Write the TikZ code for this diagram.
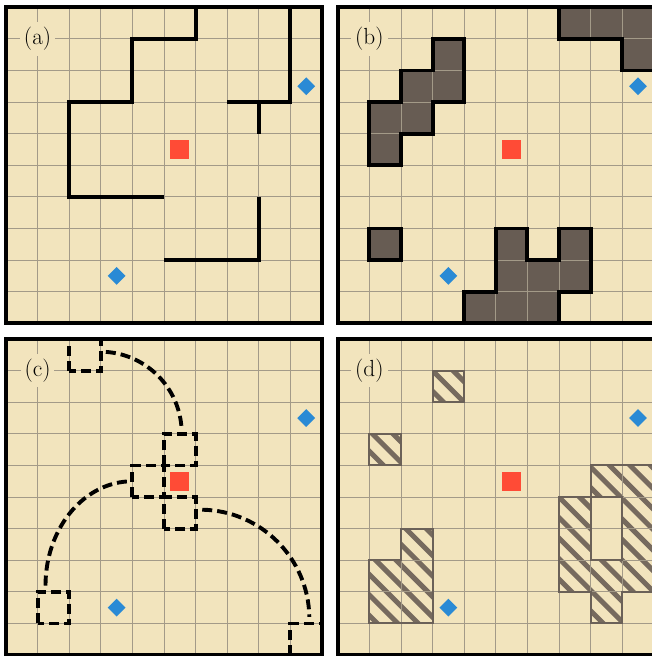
\documentclass[tikz,border=0pt]{standalone}
\definecolor{bgbeige}{HTML}{F2E4BD}
\definecolor{darkfill}{HTML}{675C53}
\definecolor{hatchcol}{HTML}{766A5E}
\definecolor{hatchedgecol}{HTML}{6B6158}
\definecolor{redsq}{HTML}{FF4B36}
\definecolor{bluedia}{HTML}{2A8AD5}
\definecolor{gridcol}{HTML}{A39A88}
\begin{document}
\begin{tikzpicture}[x=1cm,y=1cm,
  panelbg/.style={fill=bgbeige},
  gridline/.style={draw=gridcol,line width=0.8pt},
  frame/.style={draw=black,line width=3.2pt,line join=miter},
  wall/.style={draw=black,line width=3.5pt,line join=miter,line cap=butt},
  dashwall/.style={draw=black,line width=3.5pt,dash pattern=on 9pt off 4.5pt},
  darkregion/.style={fill=darkfill},
  hatchstripe/.style={draw=hatchcol,line width=4.5pt},
  hatchedge/.style={draw=hatchedgecol,line width=1.8pt,line join=miter},
  goal/.style={rectangle,fill=redsq,minimum size=0.6cm,inner sep=0pt},
  startmark/.style={rectangle,fill=bluedia,minimum size=0.4cm,inner sep=0pt,rotate=45},
  lbl/.style={fill=bgbeige,inner xsep=3.5pt,inner ysep=4.5pt,font=\fontsize{21}{25}\selectfont}
]
\useasboundingbox (-0.19,-0.03) rectangle (20.44,20.73);
\fill[white] (-0.19,-0.03) rectangle (20.44,20.73);

% ---------- panel (a) ----------
\begin{scope}[shift={(0,10.5)}]
  \fill[panelbg] (0,0) rectangle (10,10);
  \draw[gridline] (0,0) grid (10,10);
  \draw[wall] (6,10) -- (6,9) -- (4,9) -- (4,7) -- (2,7) -- (2,4) -- (5,4);
  \draw[wall] (9,10) -- (9,7) -- (7,7);
  \draw[wall] (8,7) -- (8,6);
  \draw[wall] (8,4) -- (8,2) -- (5,2);
  \node[goal] (agoal) at (5.5,5.5) {};
  \node[startmark] (astartA) at (9.5,7.5) {};
  \node[startmark] (astartB) at (3.5,1.5) {};
  \node[lbl] (alabel) at (1,9) {(a)};
  \draw[frame] (0,0) rectangle (10,10);
\end{scope}

% ---------- panel (b) ----------
\begin{scope}[shift={(10.5,10.5)}]
  \fill[panelbg] (0,0) rectangle (10,10);
  \fill[darkregion] (7,10) -- (7,9) -- (9,9) -- (9,8) -- (10,8) -- (10,10) -- cycle;
  \fill[darkregion] (3,9) -- (4,9) -- (4,7) -- (3,7) -- (3,6) -- (2,6) -- (2,5) -- (1,5) -- (1,7) -- (2,7) -- (2,8) -- (3,8) -- cycle;
  \fill[darkregion] (1,2) rectangle (2,3);
  \fill[darkregion] (4,0) -- (4,1) -- (5,1) -- (5,3) -- (6,3) -- (6,2) -- (7,2) -- (7,3) -- (8,3) -- (8,1) -- (7,1) -- (7,0) -- cycle;
  \draw[gridline] (0,0) grid (10,10);
  \draw[wall] (7,10) -- (7,9) -- (9,9) -- (9,8) -- (10,8);
  \draw[wall] (3,9) -- (4,9) -- (4,7) -- (3,7) -- (3,6) -- (2,6) -- (2,5) -- (1,5) -- (1,7) -- (2,7) -- (2,8) -- (3,8) -- cycle;
  \draw[wall] (1,2) rectangle (2,3);
  \draw[wall] (4,0) -- (4,1) -- (5,1) -- (5,3) -- (6,3) -- (6,2) -- (7,2) -- (7,3) -- (8,3) -- (8,1) -- (7,1) -- (7,0);
  \node[goal] (bgoal) at (5.5,5.5) {};
  \node[startmark] (bstartA) at (9.5,7.5) {};
  \node[startmark] (bstartB) at (3.5,1.5) {};
  \node[lbl] (blabel) at (1,9) {(b)};
  \draw[frame] (0,0) rectangle (10,10);
\end{scope}

% ---------- panel (c) ----------
\begin{scope}[shift={(0,0)}]
  \fill[panelbg] (0,0) rectangle (10,10);
  \draw[gridline] (0,0) grid (10,10);
  \draw[dashwall] (2,9) rectangle (3,10);
  \draw[dashwall] (5,6) rectangle (6,7);
  \draw[dashwall] (4,5) rectangle (5,6);
  \draw[dashwall] (5,4) rectangle (6,5);
  \draw[dashwall] (1,1) rectangle (2,2);
  \draw[dashwall] (9,0) rectangle (10,1);
  \draw[dashwall] ([shift={(86:2.58)}]2.98,7.02) arc[start angle=86,end angle=3,radius=2.58];
  \draw[dashwall] (1.25,2.2) arc[start angle=180,end angle=93,x radius=2.75,y radius=3.3];
  \draw[dashwall] ([shift={(89:3.45)}]6.15,1.15) arc[start angle=89,end angle=1,radius=3.45];
  \node[goal] (cgoal) at (5.5,5.5) {};
  \node[startmark] (cstartA) at (9.5,7.5) {};
  \node[startmark] (cstartB) at (3.5,1.5) {};
  \node[lbl] (clabel) at (1,9) {(c)};
  \draw[frame] (0,0) rectangle (10,10);
\end{scope}

% ---------- panel (d) ----------
\begin{scope}[shift={(10.5,0)}]
  \fill[panelbg] (0,0) rectangle (10,10);
  \begin{scope}
    \clip (3,8) rectangle (4,9) (1,6) rectangle (2,7) (2,3) rectangle (3,4) (1,1) rectangle (3,3)
          (8,5) rectangle (10,6) (7,2) rectangle (8,5) (9,2) rectangle (10,5) (8,2) rectangle (9,3) (8,1) rectangle (9,2);
    \foreach \k in {0,...,34} {
      \draw[hatchstripe] ({0.3+0.65*\k+1},-1) -- ({0.3+0.65*\k-11},11);
    }
  \end{scope}
  \draw[gridline] (0,0) grid (10,10);
  \draw[hatchedge] (3,8) rectangle (4,9);
  \draw[hatchedge] (1,6) rectangle (2,7);
  \draw[hatchedge] (2,4) -- (3,4) -- (3,1) -- (1,1) -- (1,3) -- (2,3) -- cycle;
  \draw[hatchedge] (8,6) -- (10,6) -- (10,2) -- (9,2) -- (9,1) -- (8,1) -- (8,2) -- (7,2) -- (7,5) -- (8,5) -- cycle;
  \draw[hatchedge] (8,3) rectangle (9,5);
  \node[goal] (dgoal) at (5.5,5.5) {};
  \node[startmark] (dstartA) at (9.5,7.5) {};
  \node[startmark] (dstartB) at (3.5,1.5) {};
  \node[lbl] (dlabel) at (1,9) {(d)};
  \draw[frame] (0,0) rectangle (10,10);
\end{scope}
\end{tikzpicture}
\end{document}
